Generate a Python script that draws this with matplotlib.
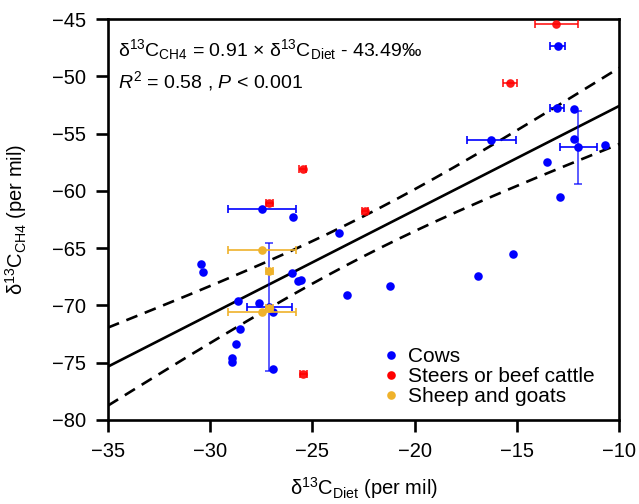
import numpy as np
import matplotlib
matplotlib.use('Agg')
import matplotlib.pyplot as plt
from matplotlib.lines import Line2D

plt.rcParams['font.family'] = 'Liberation Sans'
plt.rcParams['mathtext.fontset'] = 'custom'
plt.rcParams['mathtext.rm'] = 'Liberation Sans'
plt.rcParams['mathtext.it'] = 'Liberation Sans:italic'

# cows without error bars
cow_x = [-30.44, -30.34, -25.93, -26.01, -25.70, -25.55, -28.62, -27.63, -26.91, -28.53,
         -28.72, -28.92, -28.92, -26.91, -23.72, -23.32, -21.22, -16.91, -15.20, -12.20,
         -12.20, -10.70, -13.51, -12.90]
cow_y = [-66.38, -67.08, -62.30, -67.14, -67.90, -67.75, -69.58, -69.75, -70.60, -72.08,
         -73.39, -74.61, -74.90, -75.57, -63.70, -69.08, -68.30, -67.40, -65.50, -52.88,
         -55.50, -56.00, -57.50, -60.50]

# cows with error bars
cow_eb_x = [-27.47, -27.11, -16.26, -13.00, -13.05, -11.99]
cow_eb_y = [-61.60, -70.16, -55.56, -47.40, -52.80, -56.20]
cow_eb_xerr = [1.67, 1.10, 1.20, 0.36, 0.34, 0.92]
cow_eb_yerr = [0.0, 5.58, 0.0, 0.0, 0.0, 3.20]

# steers or beef cattle
steer_x = [-27.11, -25.48, -22.43, -25.44, -15.35, -13.07]
steer_y = [-61.08, -58.09, -61.78, -76.00, -50.58, -45.44]
steer_xerr = [0.17, 0.17, 0.17, 0.17, 0.33, 1.04]

# sheep and goats
sheep_x = [-27.47, -27.11, -27.11, -27.47]
sheep_y = [-65.18, -66.96, -70.20, -70.60]
sheep_xerr = [1.67, 0.17, 0.17, 1.67]

# regression and confidence band parameters
slope, intercept = 0.91, -43.49
band_min, band_slope, band_xm = 1.75, 0.23, -22.3

blue = '#0000FF'
red = '#FF0000'
orange = '#EFB22B'

fig = plt.figure(figsize=(6.39, 5.04), dpi=100)
ax = fig.add_axes([0.169, 0.1667, 0.8, 0.7956])

xs = np.linspace(-35, -10, 200)
fit = slope * xs + intercept
half = np.sqrt(band_min ** 2 + (band_slope * (xs - band_xm)) ** 2)
ax.plot(xs, fit, color='black', lw=1.9, zorder=2)
ax.plot(xs, fit + half, color='black', lw=1.9, ls=(0, (4.5, 3)), zorder=2)
ax.plot(xs, fit - half, color='black', lw=1.9, ls=(0, (4.5, 3)), zorder=2)

ax.scatter(cow_x, cow_y, s=38, color=blue, zorder=3, linewidths=0)
ax.errorbar(cow_eb_x, cow_eb_y, xerr=cow_eb_xerr, fmt='o', ms=6.2, color=blue,
            mec='none', ecolor=blue, elinewidth=1.2, capsize=3.2, capthick=1.2, zorder=3)
for x, y, e in zip(cow_eb_x, cow_eb_y, cow_eb_yerr):
    if e > 0:
        ax.errorbar([x], [y], yerr=[e], fmt='none', ecolor=blue, alpha=0.75,
                    elinewidth=1.2, capsize=3.2, capthick=1.2, zorder=3)

ax.errorbar(steer_x, steer_y, xerr=steer_xerr, fmt='o', ms=6.2, color=red, mec='none',
            ecolor=red, alpha=0.9, elinewidth=1.2, capsize=3.2, capthick=1.2, zorder=4)
ax.errorbar(sheep_x, sheep_y, xerr=sheep_xerr, fmt='o', ms=6.2, color=orange, mec='none',
            ecolor=orange, elinewidth=1.2, capsize=3.2, capthick=1.2, zorder=4)

ax.set_xlim(-35, -10)
ax.set_ylim(-80, -45)
ax.set_xticks([-35, -30, -25, -20, -15, -10])
ax.set_yticks([-80, -75, -70, -65, -60, -55, -50, -45])
ax.tick_params(direction='out', length=8.5, width=1.9, labelsize=14.5, pad=7)
for sp in ax.spines.values():
    sp.set_linewidth(1.9)

ax.set_xlabel(r'$\mathregular{\delta^{13}C_{Diet}}$ (per mil)', fontsize=14.5, labelpad=10.5)
ax.set_ylabel(r'$\mathregular{\delta^{13}C_{CH4}}$ (per mil)', fontsize=14.5, labelpad=17)

ax.text(0.02, 0.955, r'$\mathregular{\delta^{13}C_{CH4}}$ = 0.91 × $\mathregular{\delta^{13}C_{Diet}}$ - 43.49‰',
        transform=ax.transAxes, fontsize=14, va='top', ha='left')
ax.text(0.02, 0.875, r'$R^2$ = 0.58 , $P$ < 0.001',
        transform=ax.transAxes, fontsize=14, va='top', ha='left')

handles = [Line2D([], [], ls='none', marker='o', ms=6.2, color=c, mec='none') for c in (blue, red, orange)]
ax.legend(handles, ['Cows', 'Steers or beef cattle', 'Sheep and goats'], loc='lower left',
          bbox_to_anchor=(0.515, 0.0), frameon=False, fontsize=15, handlelength=0.6,
          handletextpad=0.5, labelspacing=0.05, borderaxespad=0.25)

fig.savefig('out.png', dpi=100)
